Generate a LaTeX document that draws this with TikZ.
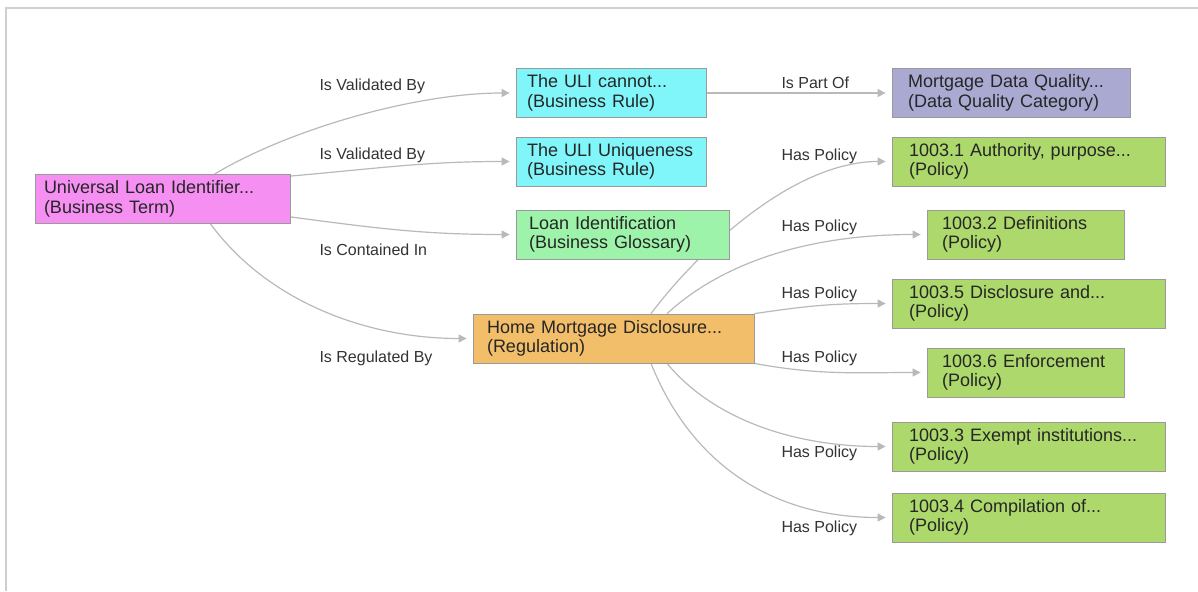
\documentclass[tikz,border=0pt]{standalone}
\usepackage{fontspec}
\setmainfont{Liberation Sans}
\usetikzlibrary{arrows.meta,backgrounds}
\definecolor{termpink}{HTML}{F590F2}
\definecolor{rulecyan}{HTML}{80F6FA}
\definecolor{glossgreen}{HTML}{9EF3AA}
\definecolor{regorange}{HTML}{F3BE69}
\definecolor{dqlilac}{HTML}{A9A9D1}
\definecolor{policygreen}{HTML}{ADD86B}
\definecolor{edgegray}{HTML}{B9B9B9}
\definecolor{framegray}{HTML}{CFCFCF}
\definecolor{labelgray}{HTML}{333333}
\definecolor{boxline}{HTML}{9A9A9A}
\hyphenpenalty=10000

\begin{document}
\begin{tikzpicture}[x=1pt, y=-1pt,
    box/.style={draw=boxline, line width=0.8pt, minimum height=49pt, inner ysep=2pt, align=left, text=black!85, font=\fontsize{18}{19.5}\selectfont},
    rel/.style={anchor=west, text=labelgray, font=\fontsize{16}{18}\selectfont},
    link/.style={draw=edgegray, line width=1.2pt, -{Triangle[width=8pt,length=8pt]}, shorten >=6pt}]
    \useasboundingbox (0,0) rectangle (1198,591);
    \draw[framegray, line width=1.5pt] (6,591) -- (6,8) -- (1198,8);

    % entities
    \node[box, fill=termpink, inner xsep=9pt, text width=237pt] (uli) at (162.5,199) {Universal Loan Identifier...\\(Business Term)};
    \node[box, fill=rulecyan, inner xsep=11pt, text width=168pt] (cannot) at (611,93) {The ULI cannot...\\(Business Rule)};
    \node[box, fill=rulecyan, inner xsep=11pt, text width=168pt] (uniq) at (611,161.5) {The ULI Uniqueness\\(Business Rule)};
    \node[box, fill=glossgreen, inner xsep=13pt, text width=187pt] (glos) at (622.5,234.5) {Loan Identification\\(Business Glossary)};
    \node[box, fill=regorange, inner xsep=14pt, text width=253pt] (hmd) at (613.5,338.5) {Home Mortgage Disclosure...\\(Regulation)};
    \node[box, fill=dqlilac, inner xsep=16pt, text width=206pt] (dq) at (1011,93) {Mortgage Data Quality...\\(Data Quality Category)};
    \node[box, fill=policygreen, inner xsep=17pt, text width=239pt] (p1) at (1028.5,161.5) {1003.1 Authority, purpose...\\(Policy)};
    \node[box, fill=policygreen, inner xsep=15pt, text width=167pt] (p2) at (1025.5,234.5) {1003.2 Definitions\\(Policy)};
    \node[box, fill=policygreen, inner xsep=17pt, text width=239pt] (p5) at (1028.5,303.5) {1003.5 Disclosure and...\\(Policy)};
    \node[box, fill=policygreen, inner xsep=15pt, text width=167pt] (p6) at (1025.5,372.5) {1003.6 Enforcement\\(Policy)};
    \node[box, fill=policygreen, inner xsep=17pt, text width=239pt] (p3) at (1028.5,446.5) {1003.3 Exempt institutions...\\(Policy)};
    \node[box, fill=policygreen, inner xsep=17pt, text width=239pt] (p4) at (1028.5,517.5) {1003.4 Compilation of...\\(Policy)};

    % relation labels
    \node[rel] (valA) at (316,86) {Is Validated By};
    \node[rel] (valB) at (316,155) {Is Validated By};
    \node[rel] (cont) at (316,250) {Is Contained In};
    \node[rel] (regu) at (316,358) {Is Regulated By};
    \node[rel] (part) at (778,83) {Is Part Of};
    \node[rel] (hp1) at (778,156) {Has Policy};
    \node[rel] (hp2) at (778,227) {Has Policy};
    \node[rel] (hp5) at (778,294) {Has Policy};
    \node[rel] (hp6) at (778,358) {Has Policy};
    \node[rel] (hp3) at (778,453) {Has Policy};
    \node[rel] (hp4) at (778,528) {Has Policy};

    % connectors
    \begin{scope}[on background layer]
        \draw[link] ([shift={(52,0)}]uli.north) .. controls +(75,-45) and +(-100,0) .. (cannot.west);
        \draw[link] ([shift={(0,2)}]uli.north east) .. controls +(90,-8) and +(-90,0) .. (uniq.west);
        \draw[link] ([shift={(0,-7)}]uli.south east) .. controls +(90,12) and +(-90,0) .. (glos.west);
        \draw[link] ([shift={(48,0)}]uli.south) .. controls +(55,75) and +(-110,0) .. (hmd.west);
        \draw[link] (cannot.east) -- (dq.west);
        \draw[link] ([shift={(37.5,0)}]hmd.north) .. controls +(45,-60) and +(-100,0) .. (p1.west);
        \draw[link] ([shift={(53.5,0)}]hmd.north) .. controls +(60,-55) and +(-110,0) .. (p2.west);
        \draw[link] (hmd.north east) .. controls +(55,-8) and +(-60,0) .. (p5.west);
        \draw[link] (hmd.south east) .. controls +(65,12) and +(-70,0) .. (p6.west);
        \draw[link] ([shift={(53.5,0)}]hmd.south) .. controls +(50,60) and +(-90,0) .. (p3.west);
        \draw[link] ([shift={(37.5,0)}]hmd.south) .. controls +(40,100) and +(-120,0) .. (p4.west);
    \end{scope}
\end{tikzpicture}
\end{document}
